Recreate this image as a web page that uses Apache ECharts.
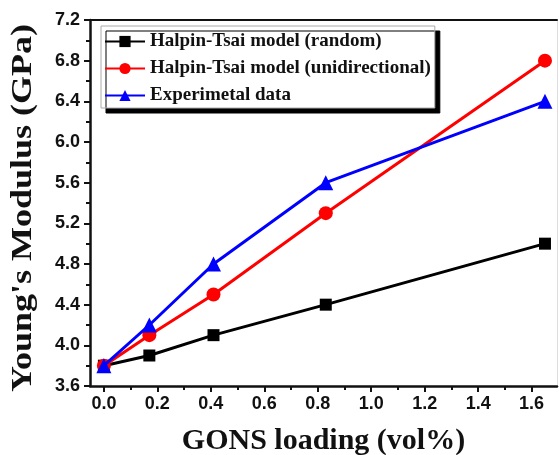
<!DOCTYPE html>
<html>
<head>
<meta charset="utf-8">
<script src="https://cdn.jsdelivr.net/npm/echarts@6/dist/echarts.min.js"></script>
<style>
html,body{margin:0;padding:0;background:#fff;}
#chart{width:559px;height:455px;}
</style>
</head>
<body>
<div id="chart"></div>
<script>
// GONS loading (vol%)
const loading = [0, 0.17, 0.41, 0.83, 1.65];
// Young's modulus (GPa)
const htRandom = [3.8, 3.9, 4.1, 4.4, 5.0];
const htUnidirectional = [3.8, 4.1, 4.5, 5.3, 6.8];
const experimental = [3.8, 4.2, 4.8, 5.6, 6.4];

const seriesNames = [
  'Halpin-Tsai model (random)',
  'Halpin-Tsai model (unidirectional)',
  'Experimetal data'
];
const xMajorTicks = [0, 0.2, 0.4, 0.6, 0.8, 1.0, 1.2, 1.4, 1.6];
const xMinorTicks = [0.1, 0.3, 0.5, 0.7, 0.9, 1.1, 1.3, 1.5];
const yTitle = "Young's Modulus (GPa)";
const xTitle = 'GONS loading (vol%)';

const pair = (ys) => loading.map((x, i) => [x, ys[i]]);

const serif = '"Liberation Serif", "Times New Roman", serif';
const sans = '"Liberation Sans", Arial, sans-serif';

const chart = echarts.init(document.getElementById('chart'));
chart.setOption({
  animation: false,
  backgroundColor: '#fff',
  grid: { left: 90, top: 20, right: 2, bottom: 69, outerBoundsMode: 'none', containLabel: false },
  graphic: [
    {
      // vertical axis title, drawn slightly stretched along its reading direction
      type: 'text', x: 23, y: 208, rotation: Math.PI / 2, scaleX: 1.2,
      style: {
        text: yTitle, fontFamily: serif, fontWeight: 'bold', fontSize: 30,
        fill: '#111', align: 'center', verticalAlign: 'middle'
      }
    }
  ],
  legend: {
    orient: 'vertical',
    left: 101,
    top: 26,
    padding: [6, 4, 3, 3],
    itemGap: 8,
    itemWidth: 40,
    itemHeight: 14,
    backgroundColor: '#fff',
    borderColor: '#aaa',
    borderWidth: 1,
    shadowColor: '#000',
    shadowBlur: 0,
    shadowOffsetX: 5,
    shadowOffsetY: 5,
    textStyle: { fontFamily: serif, fontWeight: 'bold', fontSize: 19, color: '#111' },
    data: seriesNames
  },
  xAxis: [
    {
      type: 'value', min: -0.052, max: 1.695, position: 'bottom',
      name: xTitle, nameLocation: 'middle', nameGap: 40,
      nameTextStyle: { fontFamily: serif, fontWeight: 'bold', fontSize: 30, color: '#111' },
      axisLine: { show: true, onZero: false, lineStyle: { color: '#111', width: 2.5 } },
      axisTick: { show: true, customValues: xMajorTicks, length: 6, lineStyle: { color: '#111', width: 2 } },
      axisLabel: {
        customValues: xMajorTicks, margin: 9,
        formatter: (v) => v.toFixed(1),
        fontFamily: sans, fontWeight: 'bold', fontSize: 18, color: '#111'
      },
      splitLine: { show: false }
    },
    {
      type: 'value', min: -0.052, max: 1.695, position: 'bottom',
      axisLine: { show: false, onZero: false },
      axisTick: { show: true, customValues: xMinorTicks, length: 4, lineStyle: { color: '#111', width: 2 } },
      axisLabel: { show: false },
      splitLine: { show: false }
    },
    {
      type: 'value', min: -0.052, max: 1.695, position: 'top',
      axisLine: { show: true, onZero: false, lineStyle: { color: '#111', width: 2 } },
      axisTick: { show: false }, axisLabel: { show: false }, splitLine: { show: false }
    }
  ],
  yAxis: [
    {
      type: 'value', min: 3.6, max: 7.2, interval: 0.4, position: 'left',
      axisLine: { show: true, onZero: false, lineStyle: { color: '#111', width: 2.5 } },
      axisTick: { show: true, length: 6, lineStyle: { color: '#111', width: 2 } },
      minorTick: { show: true, splitNumber: 2, length: 4, lineStyle: { color: '#111', width: 2 } },
      axisLabel: {
        margin: 10, formatter: (v) => v.toFixed(1),
        fontFamily: sans, fontWeight: 'bold', fontSize: 18, color: '#111'
      },
      splitLine: { show: false }
    },
    {
      type: 'value', min: 3.6, max: 7.2, position: 'right',
      axisLine: { show: true, onZero: false, lineStyle: { color: '#ddd', width: 1 } },
      axisTick: { show: false }, axisLabel: { show: false }, splitLine: { show: false }
    }
  ],
  series: [
    {
      name: seriesNames[0], type: 'line', data: pair(htRandom),
      symbol: 'rect', symbolSize: 12,
      lineStyle: { color: '#000', width: 3 }, itemStyle: { color: '#000' }, z: 3
    },
    {
      name: seriesNames[1], type: 'line', data: pair(htUnidirectional),
      symbol: 'circle', symbolSize: 14,
      lineStyle: { color: '#f00', width: 3 }, itemStyle: { color: '#f00' }, z: 4
    },
    {
      name: seriesNames[2], type: 'line', data: pair(experimental),
      symbol: 'triangle', symbolSize: 15,
      lineStyle: { color: '#00f', width: 3 }, itemStyle: { color: '#00f' }, z: 5
    }
  ]
});
</script>
</body>
</html>
